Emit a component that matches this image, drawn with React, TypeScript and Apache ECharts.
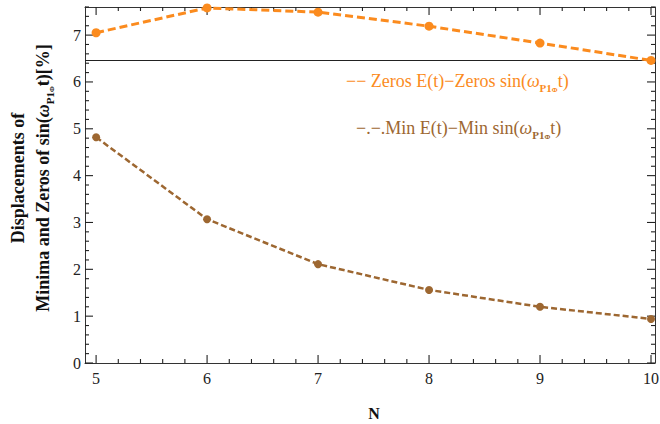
import React, { useEffect, useRef } from "react";
import * as echarts from "echarts";

const nValues = [5, 6, 7, 8, 9, 10];
const zerosDisp = [7.05, 7.58, 7.49, 7.19, 6.83, 6.46];
const minDisp = [4.82, 3.07, 2.11, 1.56, 1.2, 0.94];
const refLine = 6.46;
const xMajor = [5, 6, 7, 8, 9, 10];
const yMajor = [0, 1, 2, 3, 4, 5, 6, 7];
const xMin = 4.9;
const xMax = 10.036;
const yMin = 0;
const yMax = 7.6;

const ORANGE = "#fb8b1e";
const BROWN = "#9d6731";
const FONT = "'Liberation Serif', 'DejaVu Serif', serif";

function minorTicks(from: number, to: number, step: number, majors: number[]) {
  const out: number[] = [];
  for (let v = from; v <= to + 1e-9; v += step) {
    const r = Math.round(v * 100) / 100;
    if (!majors.includes(r)) out.push(r);
  }
  return out;
}

const xMinor = minorTicks(5, 10, 0.2, xMajor);
const yMinor = minorTicks(0, 7.6, 0.2, yMajor);

// tick items: [x, y, side, length]; side 0 bottom, 1 top, 2 left, 3 right
const tickData: number[][] = [];
for (const v of xMajor) { tickData.push([v, yMin, 0, 8]); tickData.push([v, yMax, 1, 8]); }
for (const v of xMinor) { tickData.push([v, yMin, 0, 4]); tickData.push([v, yMax, 1, 4]); }
for (const v of yMajor) { tickData.push([xMin, v, 2, 8]); tickData.push([xMax, v, 3, 8]); }
for (const v of yMinor) { tickData.push([xMin, v, 2, 4]); tickData.push([xMax, v, 3, 4]); }

export default function App() {
  const ref = useRef<HTMLDivElement>(null);
  useEffect(() => {
    document.body.style.margin = "0";
    if (!ref.current) return;
    const chart = echarts.init(ref.current, null, { renderer: "svg" });
    const frameColor = "#333";

    const richBase = {
      n: { fontFamily: FONT, fontSize: 18, lineHeight: 22 },
      w: { fontFamily: FONT, fontSize: 18, fontStyle: "italic", lineHeight: 22 },
      s: { fontFamily: FONT, fontSize: 11, fontWeight: "bold", verticalAlign: "bottom", lineHeight: 22 },
      ss: { fontFamily: FONT, fontSize: 7, fontWeight: "bold", verticalAlign: "bottom", lineHeight: 25 },
    };

    const frameAxis = (pos: string, min: number, max: number, labels: number[] | null, margin: number) => ({
      type: "value",
      position: pos,
      min,
      max,
      axisLine: { show: true, onZero: false, lineStyle: { color: frameColor, width: 1 } },
      splitLine: { show: false },
      axisTick: { show: false },
      axisLabel: labels
        ? { customValues: labels, margin, color: "#222", fontFamily: FONT, fontSize: 16 }
        : { show: false },
    });

    chart.setOption({
      animation: false,
      grid: { left: 85, right: 5, top: 7, bottom: 61, outerBoundsMode: "none", containLabel: false },
      xAxis: [frameAxis("bottom", xMin, xMax, xMajor, 7), frameAxis("top", xMin, xMax, null, 0)],
      yAxis: [frameAxis("left", yMin, yMax, yMajor, 4), frameAxis("right", yMin, yMax, null, 0)],
      series: [
        {
          type: "custom",
          xAxisIndex: 0,
          yAxisIndex: 0,
          data: tickData,
          renderItem: (params: any, api: any) => {
            const d = tickData[params.dataIndex];
            const p = api.coord([d[0], d[1]]);
            const side = d[2];
            const len = d[3];
            let x2 = p[0];
            let y2 = p[1];
            if (side === 0) y2 = p[1] - len;
            else if (side === 1) y2 = p[1] + len;
            else if (side === 2) x2 = p[0] + len;
            else x2 = p[0] - len;
            return {
              type: "line",
              shape: { x1: p[0], y1: p[1], x2, y2 },
              style: { stroke: "#222", lineWidth: 1.1 },
            };
          },
        },
        {
          type: "line",
          xAxisIndex: 0,
          yAxisIndex: 0,
          data: nValues.map((n, i) => [n, minDisp[i]]),
          symbol: "circle",
          symbolSize: 8,
          itemStyle: { color: BROWN },
          lineStyle: { color: BROWN, width: 2.5, type: [6, 3] },
          clip: false,
          z: 3,
        },
        {
          type: "line",
          xAxisIndex: 0,
          yAxisIndex: 0,
          data: nValues.map((n, i) => [n, zerosDisp[i]]),
          symbol: "circle",
          symbolSize: 9,
          itemStyle: { color: ORANGE },
          lineStyle: { color: ORANGE, width: 3, type: [8, 4] },
          clip: false,
          z: 4,
          markLine: {
            silent: true,
            symbol: ["none", "none"],
            label: { show: false },
            lineStyle: { color: "#222", width: 1, type: "solid" },
            data: [{ yAxis: refLine }],
            z: 2,
          },
        },
      ],
      graphic: [
        {
          type: "text",
          x: 346,
          y: 81,
          style: {
            text: "{n|−− Zeros E(t)−Zeros sin(}{w|ω}{s|P1}{ss|Φ}{n|t)}",
            fill: ORANGE,
            align: "left",
            verticalAlign: "middle",
            rich: richBase,
          },
        },
        {
          type: "text",
          x: 356,
          y: 128,
          style: {
            text: "{n|−.−.Min E(t)−Min sin(}{w|ω}{s|P1}{ss|Φ}{n|t)}",
            fill: BROWN,
            align: "left",
            verticalAlign: "middle",
            rich: richBase,
          },
        },
        {
          type: "text",
          x: 31,
          y: 178,
          rotation: Math.PI / 2,
          style: {
            text: "{b|Displacements of}\n{b|Minima and Zeros of sin(}{bw|ω}{bs|P1}{bss|Φ}{b|t)[%]}",
            fill: "#111",
            align: "center",
            verticalAlign: "middle",
            rich: {
              b: { fontFamily: FONT, fontSize: 18, fontWeight: "bold", lineHeight: 23 },
              bw: { fontFamily: FONT, fontSize: 18, fontWeight: "bold", fontStyle: "italic", lineHeight: 23 },
              bs: { fontFamily: FONT, fontSize: 11, fontWeight: "bold", verticalAlign: "bottom", lineHeight: 23 },
              bss: { fontFamily: FONT, fontSize: 7, fontWeight: "bold", verticalAlign: "bottom", lineHeight: 26 },
            },
          },
        },
        {
          type: "text",
          x: 374,
          y: 413,
          style: {
            text: "N",
            fill: "#111",
            fontFamily: FONT,
            fontWeight: "bold",
            fontSize: 16,
            align: "center",
            verticalAlign: "middle",
          },
        },
      ],
    });
    return () => chart.dispose();
  }, []);
  return <div ref={ref} style={{ width: 660, height: 424 }} />;
}
